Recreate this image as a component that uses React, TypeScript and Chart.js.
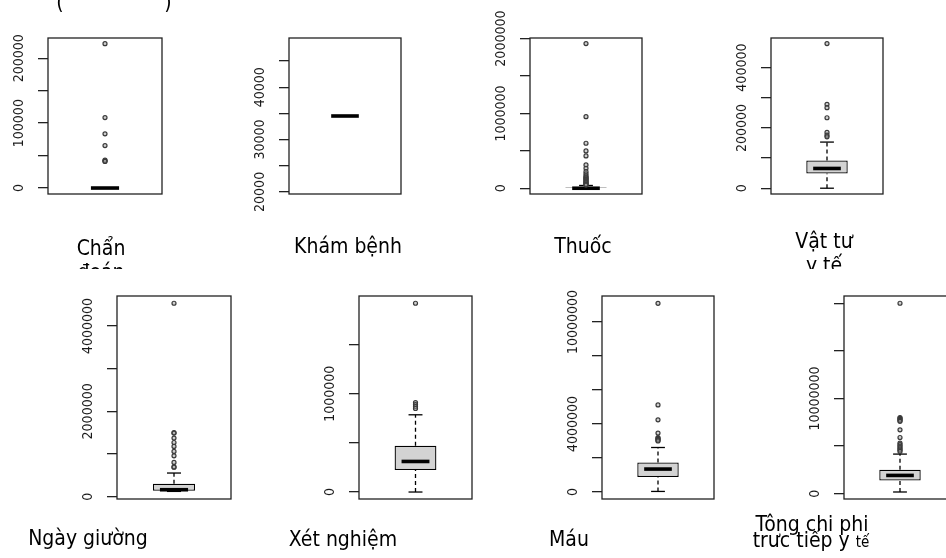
import React, { useEffect, useRef } from 'react';
import { Chart, registerables } from 'chart.js';

Chart.register(...registerables);

// ---------- DATA ----------
const categories = ['Chẩn đoán', 'Khám bệnh', 'Thuốc', 'Vật tư y tế', 'Ngày giường', 'Xét nghiệm', 'Máu', 'Tông chi phi trưc tiếp y tế'];

const whiskerLow = [0, 34500, 0, 0, 126000, 0, 35000, 180000];
const q1 = [0, 34500, 0, 48900, 140000, 224000, 881000, 1390000];
const median = [0, 34500, 0, 65500, 165000, 311000, 1351000, 1920000];
const q3 = [0, 34500, 15000, 92000, 306000, 471000, 1738000, 2520000];
const whiskerHigh = [0, 34500, 37000, 153000, 556000, 786000, 2619000, 4160000];

const outliers: number[][] = [
  [222500, 108600, 83500, 65500, 43000, 42000, 41000],
  [],
  [1933000, 957000, 601600, 498700, 431800, 311000, 267000, 222000, 191000, 164000, 150000, 138000, 126000, 114000, 102000, 90000, 80000, 70000, 60000, 50000, 42000],
  [479700, 278300, 267000, 233700, 185000, 176000, 170500],
  [4531000, 1500000, 1491000, 1374000, 1271000, 1178000, 1061000, 960000, 804000, 700000, 692000],
  [1921000, 910000, 890000, 870000, 850000],
  [11100000, 5126000, 4245000, 3465000, 3200000, 3150000, 3100000, 3050000, 3000000],
  [20000000, 8000000, 7900000, 7800000, 7700000, 7600000, 6710000, 5900000, 5320000, 5150000, 5000000, 4850000, 4700000, 4580000, 4440000],
];

const yMin = [-9200, 19596, -77000, -19200, -52000, -71000, -410000, -556000];
const yMax = [231200, 49404, 2008000, 498200, 4701000, 1995000, 11530000, 20760000];

const tickValues: number[][] = [
  [0, 50000, 100000, 150000, 200000],
  [20000, 25000, 30000, 35000, 40000, 45000],
  [0, 500000, 1000000, 1500000, 2000000],
  [0, 100000, 200000, 300000, 400000],
  [0, 1000000, 2000000, 3000000, 4000000],
  [0, 500000, 1000000, 1500000],
  [0, 2000000, 4000000, 6000000, 8000000, 10000000],
  [0, 5000000, 10000000, 15000000, 20000000],
];

const tickLabels: string[][] = [
  ['0', '100000', '200000'],
  ['20000', '30000', '40000'],
  ['0', '1000000', '2000000'],
  ['0', '200000', '400000'],
  ['0', '2000000', '4000000'],
  ['0', '1000000'],
  ['0', '4000000', '10000000'],
  ['0', '10000000'],
];

// ---------- LAYOUT ----------
const panelBoxes = [
  { x: 48, y: 38, w: 114, h: 156 },
  { x: 289, y: 38, w: 112, h: 156 },
  { x: 530, y: 38, w: 112, h: 156 },
  { x: 771, y: 38, w: 112, h: 156 },
  { x: 117, y: 296, w: 114, h: 203 },
  { x: 359, y: 296, w: 113, h: 203 },
  { x: 602, y: 296, w: 112, h: 203 },
  { x: 844, y: 296, w: 112, h: 203 },
];

const AXW = 60;
const PADX = 10;
const PADY = 45;
const TICK_FONT = '14px "DejaVu Sans Condensed", "Liberation Sans", sans-serif';
const LABEL_FONT = '"DejaVu Sans Condensed", "Liberation Sans", sans-serif';

const framePlugin = {
  id: 'rFrame',
  afterDraw(chart: any) {
    const { ctx, chartArea: a } = chart;
    const idx = chart.options.plugins.rFrame.idx as number;
    ctx.save();
    ctx.strokeStyle = '#222';
    ctx.lineWidth = 1.3;
    ctx.strokeRect(a.left, a.top, a.right - a.left, a.bottom - a.top);
    const ys = chart.scales.y;
    ctx.fillStyle = '#1a1a1a';
    ctx.font = TICK_FONT;
    ctx.textAlign = 'center';
    ctx.textBaseline = 'alphabetic';
    ys.ticks.forEach((t: any) => {
      const lbl = String(t.value);
      if (!tickLabels[idx].includes(lbl)) return;
      const py = ys.getPixelForValue(t.value);
      ctx.save();
      ctx.translate(a.left - 25, py);
      ctx.rotate(-Math.PI / 2);
      ctx.fillText(lbl, 0, 0);
      ctx.restore();
    });
    ctx.restore();
  },
};

function makeConfig(i: number): any {
  const lineDs = (pts: { x: number; y: number }[], extra: any) => ({
    type: 'line',
    data: pts,
    xAxisID: 'xl',
    borderColor: '#000',
    borderWidth: 1.3,
    pointRadius: 0,
    tension: 0,
    fill: false,
    borderCapStyle: 'butt',
    ...extra,
  });
  return {
    type: 'bar',
    data: {
      labels: [categories[i]],
      datasets: [
        {
          type: 'scatter',
          data: outliers[i].map((v) => ({ x: 0, y: v })),
          xAxisID: 'xl',
          pointStyle: 'circle',
          pointRadius: 2,
          pointBorderWidth: 1.2,
          pointBorderColor: '#3a3a3a',
          pointBackgroundColor: 'rgba(160,160,160,0.5)',
          order: 0,
        },
        lineDs([{ x: -0.2, y: median[i] }, { x: 0.2, y: median[i] }], { borderWidth: 3.6, order: 1 }),
        lineDs([{ x: 0, y: q3[i] }, { x: 0, y: whiskerHigh[i] }], { borderDash: [4, 3], order: 2 }),
        lineDs([{ x: 0, y: whiskerLow[i] }, { x: 0, y: q1[i] }], { borderDash: [4, 3], order: 2 }),
        lineDs([{ x: -0.1, y: whiskerHigh[i] }, { x: 0.1, y: whiskerHigh[i] }], { order: 2 }),
        lineDs([{ x: -0.1, y: whiskerLow[i] }, { x: 0.1, y: whiskerLow[i] }], { order: 2 }),
        {
          type: 'bar',
          data: [[q1[i], q3[i]]],
          xAxisID: 'x',
          backgroundColor: '#d3d3d3',
          borderColor: '#000',
          borderWidth: 1.3,
          borderSkipped: false,
          grouped: false,
          barPercentage: 0.37,
          categoryPercentage: 1,
          order: 5,
        },
      ],
    },
    options: {
      responsive: false,
      animation: false,
      devicePixelRatio: 1,
      events: [],
      layout: { padding: { left: 0, right: PADX, top: PADY, bottom: PADY } },
      plugins: {
        legend: { display: false },
        tooltip: { enabled: false },
        title: { display: false },
        rFrame: { idx: i },
      },
      scales: {
        x: { type: 'category', display: false, offset: true },
        xl: { type: 'linear', axis: 'x', display: false, min: -0.54, max: 0.54 },
        y: {
          type: 'linear',
          position: 'left',
          min: yMin[i],
          max: yMax[i],
          afterBuildTicks: (s: any) => {
            s.ticks = tickValues[i].map((v) => ({ value: v }));
          },
          afterFit: (s: any) => {
            s.width = AXW;
          },
          ticks: { display: false },
          border: { display: false },
          grid: {
            display: true,
            drawOnChartArea: false,
            drawTicks: true,
            tickLength: 10,
            color: '#222',
            tickColor: '#222',
            lineWidth: 1.3,
          },
        },
      },
    },
    plugins: [framePlugin],
  };
}

function BoxPanel({ i }: { i: number }) {
  const ref = useRef<HTMLCanvasElement>(null);
  useEffect(() => {
    const chart = new Chart(ref.current as HTMLCanvasElement, makeConfig(i));
    return () => chart.destroy();
  }, [i]);
  const b = panelBoxes[i];
  const W = b.w + AXW + PADX;
  const H = b.h + 2 * PADY;
  return (
    <canvas
      ref={ref}
      width={W}
      height={H}
      style={{ position: 'absolute', left: b.x - AXW, top: b.y - PADY, width: W, height: H }}
    />
  );
}

type Seg = { t: string; small?: boolean };
const labelLayout: { x: number; y: number; segs: Seg[]; clipTop?: boolean }[] = [
  { x: 101, y: 255, segs: [{ t: 'Chẩn' }], clipTop: true },
  { x: 101, y: 279, segs: [{ t: 'đoán' }], clipTop: true },
  { x: 348, y: 253, segs: [{ t: 'Khám bệnh' }], clipTop: true },
  { x: 583, y: 253, segs: [{ t: 'Thuốc' }], clipTop: true },
  { x: 824, y: 248, segs: [{ t: 'Vật tư' }], clipTop: true },
  { x: 824, y: 272, segs: [{ t: 'y tế' }], clipTop: true },
  { x: 88, y: 545, segs: [{ t: 'Ngày giường' }] },
  { x: 343, y: 546, segs: [{ t: 'Xét nghiệm' }] },
  { x: 569, y: 546, segs: [{ t: 'Máu' }] },
  { x: 812, y: 531, segs: [{ t: 'Tông chi phi' }] },
  { x: 811, y: 547, segs: [{ t: 'trưc tiếp y ' }, { t: 'tế', small: true }] },
];

export default function App() {
  return (
    <div
      style={{
        position: 'absolute',
        left: 0,
        top: 0,
        width: 946,
        height: 558,
        overflow: 'hidden',
        background: '#fff',
      }}
    >
      {panelBoxes.map((_, i) => (
        <BoxPanel key={i} i={i} />
      ))}
      <svg
        width={946}
        height={558}
        style={{ position: 'absolute', left: 0, top: 0, pointerEvents: 'none' }}
      >
        <defs>
          <clipPath id="row1clip">
            <rect x={0} y={0} width={946} height={269} />
          </clipPath>
        </defs>
        <g fontFamily={LABEL_FONT} fontSize={21} fill="#000">
          <text x={60} y={9} textAnchor="middle">(</text>
          <text x={168} y={9} textAnchor="middle">)</text>
          {labelLayout.map((l, k) => (
            <text
              key={k}
              x={l.x}
              y={l.y}
              textAnchor="middle"
              clipPath={l.clipTop ? 'url(#row1clip)' : undefined}
            >
              {l.segs.map((s, j) => (
                <tspan key={j} fontSize={s.small ? 15 : 21}>
                  {s.t}
                </tspan>
              ))}
            </text>
          ))}
        </g>
      </svg>
    </div>
  );
}
